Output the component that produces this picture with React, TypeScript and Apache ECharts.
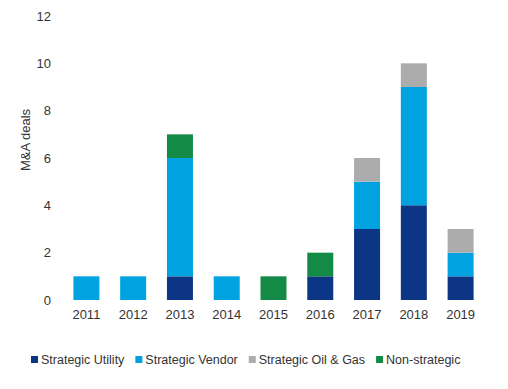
import React, { useEffect, useRef } from "react";
import * as echarts from "echarts";

const years = ["2011", "2012", "2013", "2014", "2015", "2016", "2017", "2018", "2019"];
const utility = [0, 0, 1, 0, 0, 1, 3, 4, 1];
const vendor = [1, 1, 5, 1, 0, 0, 2, 5, 1];
const oilGas = [0, 0, 0, 0, 0, 0, 1, 1, 1];
const nonStrategic = [0, 0, 1, 0, 1, 1, 0, 0, 0];

const seriesNames = ["Strategic Utility", "Strategic Vendor", "Strategic Oil & Gas", "Non-strategic"];
const colors = ["#0c3585", "#00a3e0", "#acacac", "#138a45"];

export default function App() {
  const ref = useRef<HTMLDivElement>(null);
  useEffect(() => {
    if (!ref.current) return;
    const chart = echarts.init(ref.current, null, { renderer: "svg" });
    const data = [utility, vendor, oilGas, nonStrategic];
    chart.setOption({
      animation: false,
      backgroundColor: "#ffffff",
      textStyle: { fontFamily: "Liberation Sans, Arial, sans-serif" },
      grid: { left: 63, right: 24, top: 16, bottom: 89 },
      legend: {
        top: 348,
        left: 26,
        itemWidth: 7,
        itemHeight: 7,
        itemGap: 11,
        icon: "rect",
        textStyle: { fontSize: 12.5, color: "#333333", padding: [0, 0, 0, -2] },
        data: seriesNames,
      },
      xAxis: {
        type: "category",
        data: years,
        axisLine: { show: false },
        axisTick: { show: false },
        axisLabel: { fontSize: 13, color: "#333333", margin: 8 },
      },
      yAxis: {
        type: "value",
        min: 0,
        max: 12,
        interval: 2,
        splitLine: { show: false },
        axisLine: { show: false },
        axisTick: { show: false },
        axisLabel: { fontSize: 13, color: "#333333", margin: 12 },
      },
      graphic: [
        {
          type: "text",
          x: 25,
          y: 140,
          rotation: Math.PI / 2,
          style: {
            text: "M&A deals",
            fontSize: 13,
            fill: "#333333",
            align: "center",
            verticalAlign: "middle",
            fontFamily: "Liberation Sans, Arial, sans-serif",
          },
        },
      ],
      series: seriesNames.map((name, i) => ({
        name,
        type: "bar",
        stack: "total",
        barWidth: 26,
        itemStyle: { color: colors[i] },
        data: data[i],
      })),
    });
    return () => chart.dispose();
  }, []);
  return (
    <div
      ref={ref}
      style={{ position: "absolute", left: 0, top: 0, width: 508, height: 389 }}
    />
  );
}
